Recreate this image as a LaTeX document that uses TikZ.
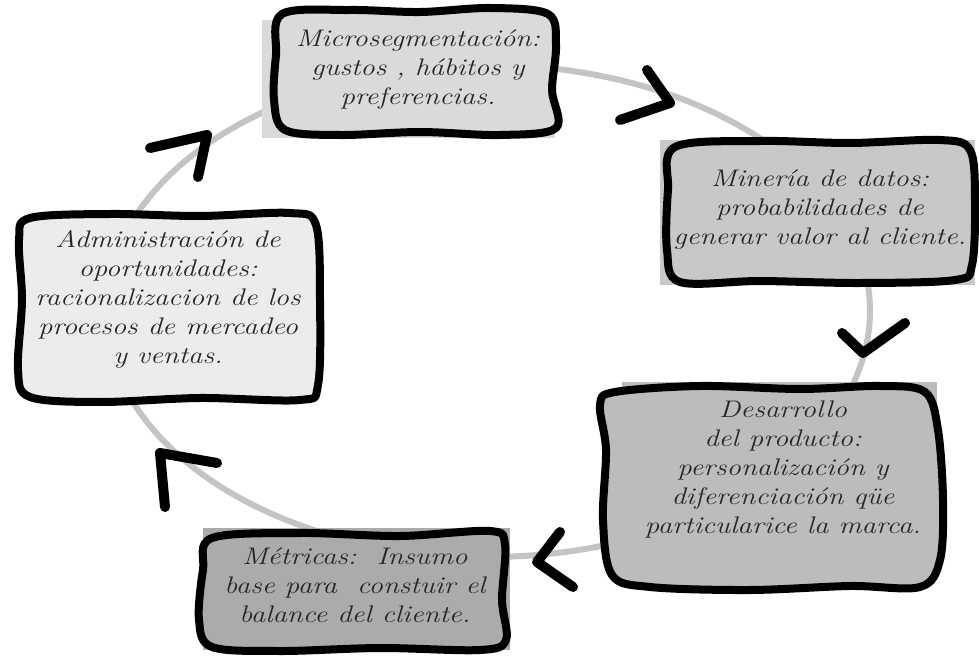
\documentclass[tikz,border=0pt]{standalone}
\usepackage{fontspec}
\usepackage{graphicx}
\newcommand\handtext[1]{\scalebox{1.2}[1]{\begin{tabular}{@{}c@{}}#1\end{tabular}}}
\definecolor{ring}{HTML}{C4C4C4}
\definecolor{fillT}{HTML}{DADADA}
\definecolor{fillR}{HTML}{C8C8C8}
\definecolor{fillL}{HTML}{ECECEC}
\definecolor{fillD}{HTML}{BCBCBC}
\definecolor{fillM}{HTML}{ABABAB}
\definecolor{ink}{HTML}{262626}
\begin{document}
\begin{tikzpicture}[x=1pt,y=-1pt,
  ringline/.style={draw=ring,line width=6pt},
  border/.style={draw=black,line width=8pt,line join=round,smooth cycle,tension=0.55},
  chev/.style={draw=black,line width=10pt,line cap=round,line join=round},
  label/.style={text=ink,font=\itshape\fontsize{24}{29}\selectfont,inner sep=0pt}]
\useasboundingbox[fill=white] (0,0) rectangle (979,660);
% ring
\draw[ringline] (488,311) ellipse [x radius=382, y radius=246];
% chevrons
\draw[chev] (647,70) -- (670,103) -- (620,120);
\draw[chev] (842,333) -- (863,353) -- (905,323);
\draw[chev] (560,532) -- (537,562) -- (573,587);
\draw[chev] (165,507) -- (160,453) -- (217,463);
\draw[chev] (150,148) -- (207,135) -- (198,177);
% top box
\fill[fillT] (262,20) rectangle (555,138);
\filldraw[fill=fillT,border] plot coordinates {(282,14) (350,10) (420,12) (490,8) (548,14) (556,45) (552,90) (556,128) (500,135) (420,132) (340,135) (285,130) (274,100) (276,55)};
\node[label] (micro) at (418,70) {\handtext{Microsegmentación:\\gustos , hábitos y\\preferencias.}};
% right box
\fill[fillR] (660,140) rectangle (975,285);
\filldraw[fill=fillR,border] plot coordinates {(675,147) (760,141) (850,143) (940,140) (970,150) (975,200) (972,265) (955,280) (860,283) (760,281) (680,282) (667,250) (668,190)};
\node[label] (mineria) at (820,210) {\handtext{Minería de datos:\\probabilidades de\\generar valor al cliente.}};
% left box
\filldraw[fill=fillL,border] plot coordinates {(30,218) (110,214) (200,216) (290,213) (316,225) (320,300) (318,385) (300,400) (200,398) (100,402) (30,397) (18,370) (22,300) (19,240)};
\node[label] (admin) at (168,300) {\handtext{Administración de\\oportunidades:\\racionalizacion de los\\procesos de mercadeo\\y ventas.}};
% desarrollo box
\fill[fillD] (622,382) rectangle (937,578);
\filldraw[fill=fillD,border] plot coordinates {(615,392) (700,386) (800,389) (880,386) (925,392) (938,430) (943,500) (940,560) (920,587) (850,586) (750,590) (650,587) (612,575) (603,520) (606,450) (600,405)};
\node[label] (desarrollo) at (783,470) {\handtext{Desarrollo\\del producto:\\personalización y\\diferenciación qüe\\particularice la marca.}};
% metricas box
\fill[fillM] (203,528) rectangle (510,650);
\filldraw[fill=fillM,border] plot coordinates {(212,538) (300,533) (400,536) (490,531) (505,545) (502,600) (506,640) (480,650) (380,648) (280,651) (212,647) (199,620) (203,570)};
\node[label] (metricas) at (355,588) {\handtext{Métricas:\ \ Insumo\\base para\ \ constuir el\\balance del cliente.}};
\end{tikzpicture}
\end{document}
